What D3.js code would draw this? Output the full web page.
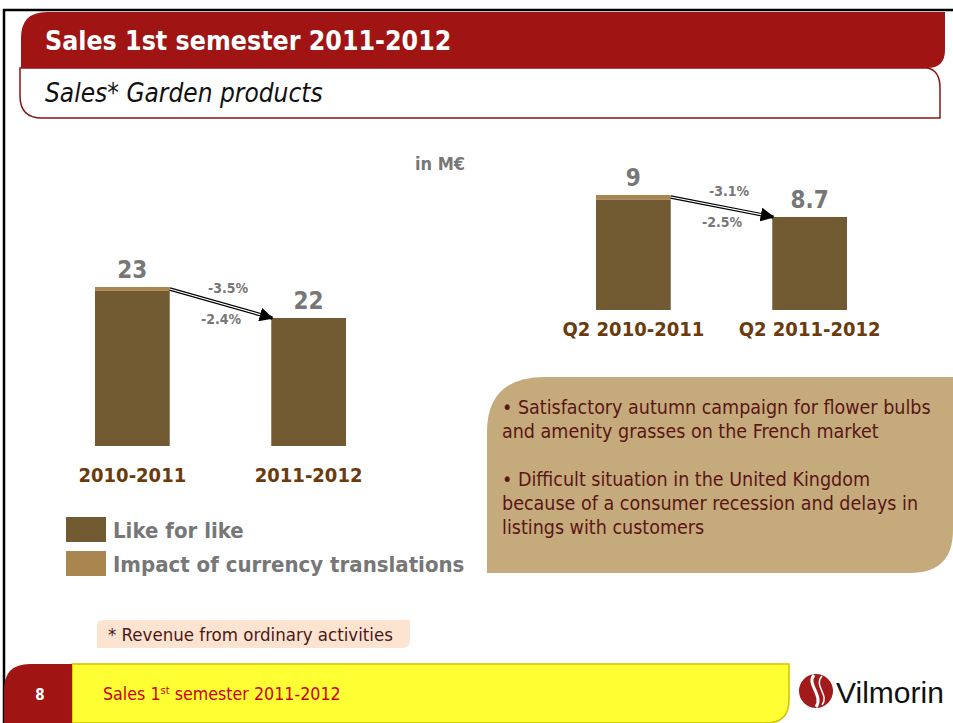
<!DOCTYPE html>
<html lang="en">
  <head>
    <meta charset="UTF-8" />
    <title>Sales 1st semester 2011-2012</title>
    <style>
      body { margin: 0; background: #fff; }
      svg { display: block; }
      text { font-family: "DejaVu Sans Condensed", "DejaVu Sans", sans-serif; }
    </style>
  </head>
  <body>
    <svg id="svg" width="953" height="723"></svg>
    <script src="https://d3js.org/d3.v7.min.js"></script>
    <script>
      // data (M€)
      const leftCats = ["2010-2011", "2011-2012"];
      const leftLike = [22.9, 22.2];
      const leftCurrency = [0.1, 0];
      const leftLabels = ["23", "22"];
      const leftChanges = ["-3.5%", "-2.4%"];

      const rightCats = ["Q2 2010-2011", "Q2 2011-2012"];
      const rightLike = [8.94, 8.7];
      const rightCurrency = [0.06, 0];
      const rightLabels = ["9", "8.7"];
      const rightChanges = ["-3.1%", "-2.5%"];

      const legendItems = ["Like for like", "Impact of currency translations"];
      const bullets = [
        ["• Satisfactory autumn campaign for flower bulbs", "and amenity grasses on the French market"],
        ["• Difficult situation in the United Kingdom", "because of a consumer recession and delays in", "listings with customers"]
      ];

      const likeColor = "#725a33";
      const fxColor = "#a98650";
      const gray = "#777";
      const brown = "#6b3b0e";
      const red = "#a01414";

      const svg = d3.select("#svg");

      const defs = svg.append("defs");
      defs.append("marker")
        .attr("id", "head")
        .attr("viewBox", "0 0 10 10")
        .attr("refX", 9).attr("refY", 5)
        .attr("markerWidth", 4).attr("markerHeight", 4)
        .attr("markerUnits", "strokeWidth")
        .attr("orient", "auto")
        .append("path").attr("d", "M0,0L10,5L0,10Z").attr("fill", "#000");

      // frame
      svg.append("path").attr("d", "M4,723V10H953").attr("fill", "none").attr("stroke", "#000").attr("stroke-width", 2.5);

      // header
      svg.append("path")
        .attr("d", "M20,68H927Q940,70 940,88V118H42Q20,118 20,96Z")
        .attr("fill", "#fff").attr("stroke", "#8b1515").attr("stroke-width", 1.5);
      svg.append("path")
        .attr("d", "M21,68V38Q21,12 47,12H945V50Q945,68 927,68Z")
        .attr("fill", red);
      svg.append("text").attr("x", 45).attr("y", 50)
        .attr("font-size", 26.5).attr("font-weight", "bold").attr("fill", "#fff")
        .text("Sales 1st semester 2011-2012");
      svg.append("text").attr("x", 45).attr("y", 102)
        .attr("font-size", 26).attr("font-style", "italic").attr("fill", "#111")
        .text("Sales* Garden products");

      svg.append("text").attr("x", 440).attr("y", 170).attr("text-anchor", "middle")
        .attr("font-size", 18).attr("font-weight", "bold").attr("fill", gray)
        .text("in M€");

      function drawPanel(cats, like, fx, labels, changes, xRange, y, base, catY) {
        const x = d3.scaleBand().domain(cats).range(xRange).paddingInner(0.576);
        const g = svg.append("g");
        const total = like.map((v, i) => v + fx[i]);

        g.selectAll(".like").data(cats).join("rect")
          .attr("x", d => x(d)).attr("width", x.bandwidth())
          .attr("y", (d, i) => y(like[i])).attr("height", (d, i) => y(base) - y(like[i]))
          .attr("fill", likeColor);
        g.selectAll(".fx").data(cats).join("rect")
          .attr("x", d => x(d)).attr("width", x.bandwidth())
          .attr("y", (d, i) => y(total[i])).attr("height", (d, i) => y(like[i]) - y(total[i]))
          .attr("fill", fxColor);

        g.selectAll(".val").data(cats).join("text")
          .attr("x", d => x(d) + x.bandwidth() / 2)
          .attr("y", (d, i) => y(total[i]) - 9)
          .attr("text-anchor", "middle").attr("font-size", 24).attr("font-weight", "bold")
          .attr("fill", gray).text((d, i) => labels[i]);

        g.selectAll(".cat").data(cats).join("text")
          .attr("x", d => x(d) + x.bandwidth() / 2).attr("y", catY)
          .attr("text-anchor", "middle").attr("font-size", 20).attr("font-weight", "bold")
          .attr("fill", brown).text(d => d);

        // double-line arrow between bar tops
        const x0 = x(cats[0]) + x.bandwidth(), y0 = y(total[0]) + 2;
        const x1 = x(cats[1]) + 1, y1 = y(total[1]);
        g.append("line").attr("x1", x0).attr("y1", y0).attr("x2", x1).attr("y2", y1)
          .attr("stroke", "#000").attr("stroke-width", 3.5).attr("marker-end", "url(#head)");
        g.append("line").attr("x1", x0).attr("y1", y0).attr("x2", x1 - 12).attr("y2", y1 - 12 * (y1 - y0) / (x1 - x0))
          .attr("stroke", "#fff").attr("stroke-width", 1.2);

        const mx = (x0 + x1) / 2, my = (y0 + y1) / 2;
        g.append("text").attr("x", mx + 7).attr("y", my - 11).attr("text-anchor", "middle")
          .attr("font-size", 14).attr("font-weight", "bold").attr("fill", gray).text(changes[0]);
        g.append("text").attr("x", mx).attr("y", my + 20).attr("text-anchor", "middle")
          .attr("font-size", 14).attr("font-weight", "bold").attr("fill", gray).text(changes[1]);
      }

      const yLeft = d3.scaleLinear().domain([18.9, 23.0]).range([446, 287]);
      const yRight = d3.scaleLinear().domain([7.43, 9.0]).range([310, 195]);
      drawPanel(leftCats, leftLike, leftCurrency, leftLabels, leftChanges, [95, 346], yLeft, 18.9, 482);
      drawPanel(rightCats, rightLike, rightCurrency, rightLabels, rightChanges, [596, 847], yRight, 7.43, 336);

      // legend
      const lg = svg.append("g");
      lg.selectAll("rect").data(legendItems).join("rect")
        .attr("x", 66).attr("y", (d, i) => 517 + i * 34).attr("width", 40).attr("height", 25)
        .attr("fill", (d, i) => i ? fxColor : likeColor);
      lg.selectAll("text").data(legendItems).join("text")
        .attr("x", 113).attr("y", (d, i) => 538 + i * 34)
        .attr("font-size", 22).attr("font-weight", "bold").attr("fill", gray)
        .text(d => d);

      // comment box
      svg.append("path")
        .attr("d", "M487,573V432Q487,377 545,377H953V530Q953,573 910,573Z")
        .attr("fill", "#c5aa7c");
      let ly = 414;
      bullets.forEach(lines => {
        lines.forEach(t => {
          svg.append("text").attr("x", 502).attr("y", ly)
            .attr("font-size", 19.5).attr("fill", "#5a1616").text(t);
          ly += 24;
        });
        ly += 24;
      });

      // footnote
      svg.append("path").attr("d", "M97,648V626Q97,620 103,620H410V640Q410,648 402,648Z").attr("fill", "#fce4d0");
      svg.append("text").attr("x", 108).attr("y", 641).attr("font-size", 18.5).attr("fill", "#4a1818")
        .text("* Revenue from ordinary activities");

      // footer
      svg.append("path").attr("d", "M72,664H789V700Q789,723 766,723H72Z")
        .attr("fill", "#ffff33").attr("stroke", "#d4c000").attr("stroke-width", 1.5);
      svg.append("path").attr("d", "M4,723V690Q4,664 30,664H72V723Z").attr("fill", red);
      svg.append("text").attr("x", 40).attr("y", 700).attr("text-anchor", "middle")
        .attr("font-size", 15).attr("font-weight", "bold").attr("fill", "#fff").text("8");
      const ft = svg.append("text").attr("x", 103).attr("y", 700).attr("font-size", 17.7).attr("fill", "#d00000");
      ft.append("tspan").text("Sales 1");
      ft.append("tspan").attr("font-size", 11).attr("dy", -6).text("st");
      ft.append("tspan").attr("dy", 6).text(" semester 2011-2012");

      // logo
      svg.append("circle").attr("cx", 816).attr("cy", 691).attr("r", 17).attr("fill", "#a31a1a");
      svg.append("path").attr("d", "M814,675C806,684 824,696 816,707").attr("fill", "none").attr("stroke", "#fff").attr("stroke-width", 3);
      svg.append("path").attr("d", "M822,676C813,686 830,695 822,705").attr("fill", "none").attr("stroke", "#fff").attr("stroke-width", 1.5);
      svg.append("text").attr("x", 836).attr("y", 703)
        .style("font-family", "'Liberation Sans', Arial, sans-serif")
        .attr("font-size", 30).attr("fill", "#111").text("Vilmorin");
    </script>
  </body>
</html>
